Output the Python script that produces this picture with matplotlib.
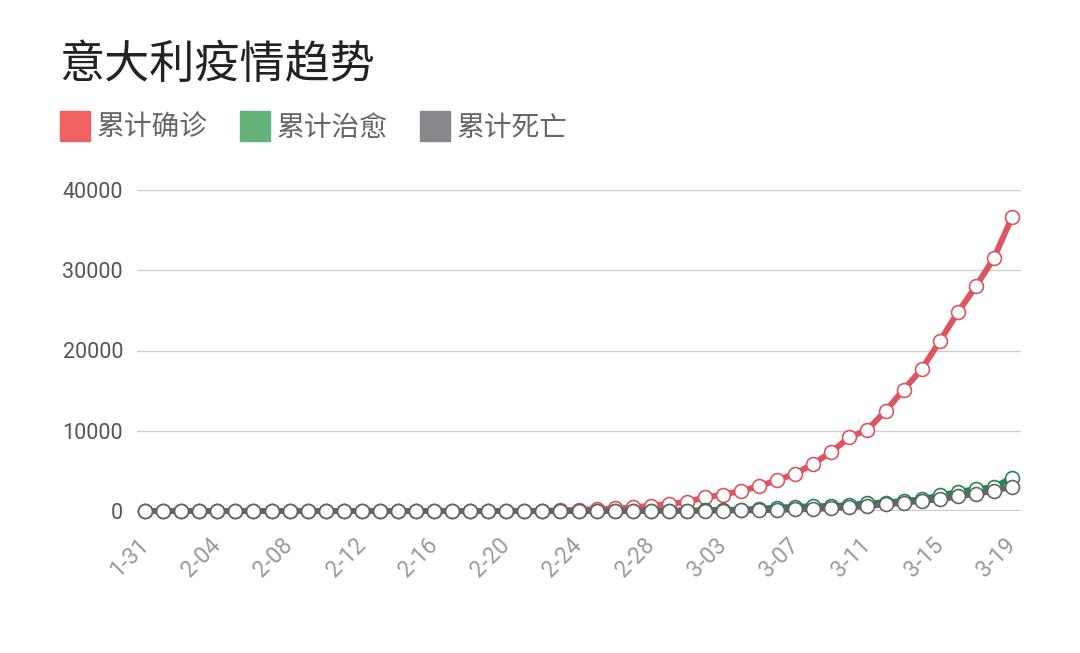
import matplotlib
matplotlib.use("Agg")
import matplotlib.pyplot as plt
from matplotlib.lines import Line2D
import pandas as pd

plt.rcParams['font.family'] = ['Roboto', 'Noto Sans CJK SC', 'DejaVu Sans']

title = "意大利疫情趋势"
series_names = ["累计确诊", "累计治愈", "累计死亡"]

dates = [d.strftime("%-m-%d") for d in pd.date_range("2020-01-31", "2020-03-19")]

confirmed = [2, 2, 2, 2, 2, 2, 2, 3, 3, 3, 3, 3, 3, 3, 3, 3, 3, 3, 3, 3, 3, 3,
             20, 79, 155, 229, 322, 453, 655, 888, 1128, 1694, 2036, 2502, 3089,
             3858, 4636, 5883, 7375, 9172, 10149, 12462, 15113, 17660, 21157,
             24747, 27980, 31506, 36600]
recovered = [0] * 25 + [1, 1, 3, 45, 46, 46, 83, 149, 160, 276, 414, 523, 589,
                        622, 724, 1004, 1045, 1258, 1439, 1966, 2335, 2749,
                        2941, 4150]
deaths = [0] * 22 + [1, 2, 3, 7, 11, 12, 17, 21, 29, 34, 52, 79, 107, 148, 197,
                     233, 366, 463, 631, 827, 1016, 1266, 1441, 1809, 2158,
                     2503, 3050]

y_ticks = [0, 10000, 20000, 30000, 40000]

line_colors = ["#DE5460", "#22894C", "#646466"]
legend_colors = ["#F06262", "#63B27A", "#88878C"]

W, H = 1080, 653
fig = plt.figure(figsize=(W / 100, H / 100), dpi=100)
ax = fig.add_axes([137 / W, 1 - 511 / H, (1021 - 137) / W, (511 - 190) / H])

x = list(range(len(dates)))
for vals, c in zip([confirmed, recovered, deaths], line_colors):
    ax.plot(x, vals, color=c, lw=4.3, marker='o', markersize=10,
            markerfacecolor='white', markeredgecolor=c, markeredgewidth=1.2,
            clip_on=False, zorder=3, solid_joinstyle='round')

ax.axhline(0, color='#222222', lw=1.0, zorder=2)
ax.set_ylim(0, 40000)
ax.set_xlim(-0.45, len(dates) - 1 + 0.5)
ax.set_yticks(y_ticks)
ax.set_yticklabels([str(v) for v in y_ticks])
ax.yaxis.grid(True, color='#cfcfcf', lw=1.0)
ax.set_axisbelow(True)
ax.set_xticks(x[::4])
ax.set_xticklabels(dates[::4], rotation=45, ha='right', va='center',
                   rotation_mode='anchor')
for s in ax.spines.values():
    s.set_visible(False)
ax.tick_params(axis='y', length=0, pad=10, labelsize=15.5, labelcolor='#555555')
ax.tick_params(axis='x', length=0, pad=22, labelsize=16.5, labelcolor='#9a9a9a')

fig.text(59 / W, 1 - 65 / H, title, fontsize=32.5, color='#222222',
         va='center', ha='left', family=['Noto Sans CJK SC', 'DejaVu Sans'])

handles = [Line2D([], [], marker='s', linestyle='none', markersize=21.6,
                  markerfacecolor=c, markeredgecolor=c) for c in legend_colors]
fig.legend(handles, series_names, loc='center left',
           bbox_to_anchor=(60 / W, 1 - 128 / H), ncol=3, frameon=False,
           labelcolor='#666666', handlelength=1.08,
           handletextpad=0.25, columnspacing=1.15, borderpad=0,
           borderaxespad=0, prop={'family': ['Noto Sans CJK SC'], 'size': 20})

fig.savefig("out.png", dpi=100)
